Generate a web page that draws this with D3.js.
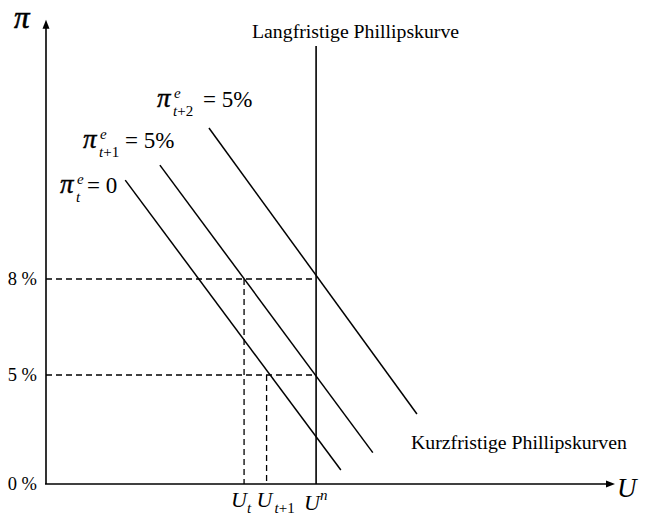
<!DOCTYPE html>
<html>
<head>
<meta charset="utf-8">
<script src="https://cdn.jsdelivr.net/npm/d3@7"></script>
<style>
  html, body { margin: 0; padding: 0; background: #fff; }
  svg { display: block; }
  text, tspan { font-family: "Liberation Serif", "Times New Roman", serif; fill: #000; }
</style>
</head>
<body>
<svg id="chart" width="650" height="515"></svg>
<script>
// Inflation levels marked on the π axis
const inflationTicks = [0, 5, 8];
const inflationTickLabels = ["0 %", "5 %", "8 %"];

// Unemployment levels marked on the U axis: U_t, U_t+1, U^n
const unemploymentMarks = [4.4, 4.9, 6.0];
const unemploymentMarkBase = ["U", "U", "U"];
const unemploymentMarkSub = ["t", "t+1", ""];
const unemploymentMarkSup = ["", "", "n"];

// Short-run Phillips curves (one per expected inflation), given by end points
const curveStartU = [1.76, 2.53, 3.62];
const curveStartPi = [11.09, 11.56, 12.72];
const curveEndU = [6.55, 7.26, 8.24];
const curveEndPi = [0.64, 1.44, 3.21];

// Expected-inflation labels for the short-run curves
const expSub = ["t", "t+1", "t+2"];
const expValue = ["0", "5%", "5%"];

// Axis extents
const uMax = 12.64;
const piMax = 16.1;
const lrpcTop = 15.28;

const svg = d3.select("#chart");
const serif = "'Liberation Serif', 'Times New Roman', serif";

const x = d3.scaleLinear().domain([0, uMax]).range([46, 615]);
// schematic inflation axis: piecewise scale through the marked levels
const y = d3.scaleLinear().domain(inflationTicks).range([484, 375, 279]);

const ink = "#000";

// axes with arrow heads
svg.append("line")
  .attr("x1", x(0)).attr("y1", y(0)).attr("x2", x(0)).attr("y2", y(piMax) + 6)
  .attr("stroke", ink).attr("stroke-width", 1.6);
svg.append("path")
  .attr("d", `M${x(0)},${y(piMax)} l-3.5,9 l7,0 z`)
  .attr("fill", ink);
svg.append("line")
  .attr("x1", x(0) - 1).attr("y1", y(0)).attr("x2", x(uMax) - 6).attr("y2", y(0))
  .attr("stroke", ink).attr("stroke-width", 1.6);
svg.append("path")
  .attr("d", `M${x(uMax)},${y(0)} l-9,-3.5 l0,7 z`)
  .attr("fill", ink);

// tick labels on the π axis
svg.selectAll("text.ytick")
  .data(inflationTicks)
  .join("text")
  .attr("class", "ytick")
  .attr("x", 37)
  .attr("y", d => y(d) + 6)
  .attr("text-anchor", "end")
  .attr("font-family", serif)
  .attr("font-size", 18.5)
  .text((d, i) => inflationTickLabels[i]);

// dashed guides: horizontal at 5 % and 8 %, vertical at U_t and U_t+1
const dash = "6,4";
[8, 5].forEach(p => {
  svg.append("line")
    .attr("x1", x(0)).attr("x2", x(unemploymentMarks[2]))
    .attr("y1", y(p)).attr("y2", y(p))
    .attr("stroke", ink).attr("stroke-width", 1.3).attr("stroke-dasharray", dash);
});
[[unemploymentMarks[0], 8], [unemploymentMarks[1], 5]].forEach(([u, p]) => {
  svg.append("line")
    .attr("x1", x(u)).attr("x2", x(u))
    .attr("y1", y(p)).attr("y2", y(0))
    .attr("stroke", ink).attr("stroke-width", 1.3).attr("stroke-dasharray", dash);
});

// long-run Phillips curve
svg.append("line")
  .attr("x1", x(unemploymentMarks[2])).attr("x2", x(unemploymentMarks[2]))
  .attr("y1", y(lrpcTop)).attr("y2", y(0))
  .attr("stroke", ink).attr("stroke-width", 1.6);

// short-run Phillips curves
svg.selectAll("line.srpc")
  .data(curveStartU)
  .join("line")
  .attr("class", "srpc")
  .attr("x1", (d, i) => x(curveStartU[i]))
  .attr("y1", (d, i) => y(curveStartPi[i]))
  .attr("x2", (d, i) => x(curveEndU[i]))
  .attr("y2", (d, i) => y(curveEndPi[i]))
  .attr("stroke", ink).attr("stroke-width", 1.5);

// axis titles
svg.append("text").attr("x", 14).attr("y", 28)
  .attr("font-family", serif).attr("font-size", 31).attr("font-style", "italic")
  .attr("stroke", ink).attr("stroke-width", 0.6).text("π");
svg.append("text").attr("x", 617).attr("y", 497)
  .attr("font-family", serif).attr("font-size", 27).attr("font-style", "italic").text("U");

// curve captions
svg.append("text").attr("x", 252).attr("y", 38)
  .attr("font-family", serif).attr("font-size", 19.8).text("Langfristige Phillipskurve");
svg.append("text").attr("x", 411).attr("y", 449)
  .attr("font-family", serif).attr("font-size", 19.8).text("Kurzfristige Phillipskurven");

// expectation labels π_t^e = ...
const expPos = [[60, 193], [83, 148], [157, 107]];
const expEqDx = [27, 42, 46];
expPos.forEach(([px, py], i) => {
  const g = svg.append("g").attr("transform", `translate(${px},${py})`);
  g.append("text").attr("font-family", serif).attr("font-size", 27)
    .attr("font-style", "italic").attr("stroke", ink).attr("stroke-width", 0.4).text("π");
  g.append("text").attr("x", 17).attr("y", -9).attr("font-family", serif)
    .attr("font-size", 15).attr("font-style", "italic").text("e");
  const s = g.append("text").attr("x", 16).attr("y", 9).attr("font-family", serif).attr("font-size", 15);
  s.append("tspan").attr("font-style", "italic").text(expSub[i].charAt(0));
  s.append("tspan").text(expSub[i].slice(1));
  g.append("text").attr("x", expEqDx[i]).attr("y", 0)
    .attr("font-family", serif).attr("font-size", 23).text("= " + expValue[i]);
});

// labels for U_t, U_t+1, U^n below the axis
const markDx = [-13, -10, -12];
const markIdx = [16, 18, 16];
unemploymentMarks.forEach((u, i) => {
  const bx = x(u) + markDx[i];
  const by = i === 2 ? 510 : 507;
  const g = svg.append("g").attr("transform", `translate(${bx},${by})`);
  g.append("text").attr("font-family", serif).attr("font-size", 22)
    .attr("font-style", "italic").text(unemploymentMarkBase[i]);
  if (unemploymentMarkSub[i]) {
    const s = g.append("text").attr("x", markIdx[i]).attr("y", 6).attr("font-family", serif).attr("font-size", 15);
    s.append("tspan").attr("font-style", "italic").text(unemploymentMarkSub[i].charAt(0));
    s.append("tspan").text(unemploymentMarkSub[i].slice(1));
  }
  if (unemploymentMarkSup[i]) {
    g.append("text").attr("x", markIdx[i]).attr("y", -10).attr("font-family", serif)
      .attr("font-size", 15).attr("font-style", "italic").text(unemploymentMarkSup[i]);
  }
});
</script>
</body>
</html>
